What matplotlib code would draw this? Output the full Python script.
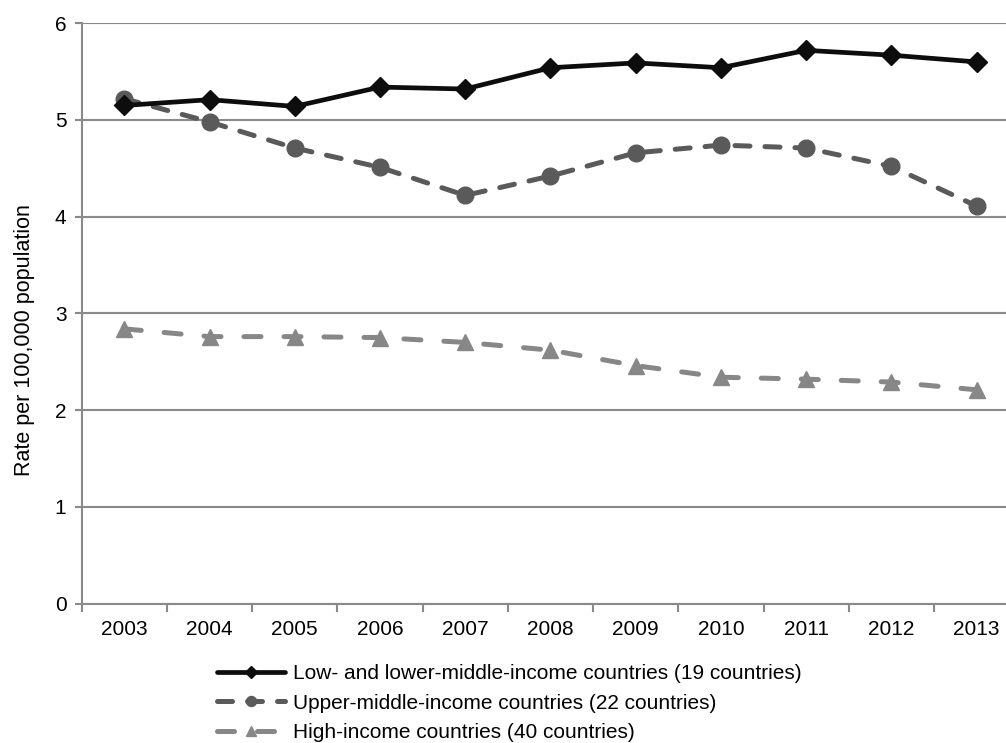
import numpy as np
import matplotlib
matplotlib.use("Agg")
import matplotlib.pyplot as plt

plt.rcParams['font.family'] = ['Liberation Sans', 'DejaVu Sans']

years = ["2003", "2004", "2005", "2006", "2007", "2008", "2009", "2010", "2011", "2012", "2013"]
low_income = [5.15, 5.21, 5.14, 5.34, 5.32, 5.54, 5.59, 5.54, 5.72, 5.67, 5.60]
upper_middle = [5.22, 4.98, 4.71, 4.51, 4.22, 4.42, 4.66, 4.74, 4.71, 4.52, 4.11]
high_income = [2.84, 2.76, 2.76, 2.75, 2.70, 2.62, 2.46, 2.34, 2.32, 2.29, 2.21]

labels = [
    "Low- and lower-middle-income countries (19 countries)",
    "Upper-middle-income countries (22 countries)",
    "High-income countries (40 countries)",
]

fig = plt.figure(figsize=(10.06, 7.43), dpi=100)
ax = fig.add_axes([0.0812, 0.1877, 0.932, 0.781])

x = np.arange(len(years))
grey = "#8a8a8a"

ax.plot(x, low_income, color="#0d0d0d", lw=3.4, marker="D", ms=10,
        solid_capstyle="round", label=labels[0], zorder=5)
ax.plot(x, upper_middle, color="#5a5a5a", lw=3.6, marker="o", ms=12,
        dashes=(3, 3), dash_capstyle="round", label=labels[1], zorder=4)
ax.plot(x, high_income, color="#878787", lw=3.6, marker="^", ms=11.5,
        dashes=(3.4, 4.6), dash_capstyle="round", label=labels[2], zorder=3)

ax.set_xlim(-0.5, len(years) - 0.5)
ax.set_ylim(0, 6)
ax.set_yticks(range(0, 7))
ax.set_xticks(x)
ax.set_xticklabels(years)
ax.set_xticks(np.arange(-0.5, len(years)), minor=True)
ax.tick_params(axis="x", which="major", length=0, pad=12, labelsize=15)
ax.tick_params(axis="x", which="minor", length=6, width=1.5, color=grey)
ax.tick_params(axis="y", length=5, width=1.5, color=grey, labelsize=15, pad=6)

ax.grid(axis="y", color=grey, lw=1.5)
ax.set_axisbelow(True)
for side in ["top", "right"]:
    ax.spines[side].set_visible(False)
for side in ["left", "bottom"]:
    ax.spines[side].set_color(grey)
    ax.spines[side].set_linewidth(1.5)

ax.set_ylabel("Rate per 100,000 population", fontsize=15.5)
ax.yaxis.set_label_coords(-0.05, 0.454)

fig.legend(loc="upper left", bbox_to_anchor=(0.205, 0.12), frameon=False,
           fontsize=15, handlelength=3.3, handletextpad=0.35, labelspacing=0.5,
           borderpad=0, numpoints=1, markerscale=0.6)

fig.savefig("out.png", dpi=100)
